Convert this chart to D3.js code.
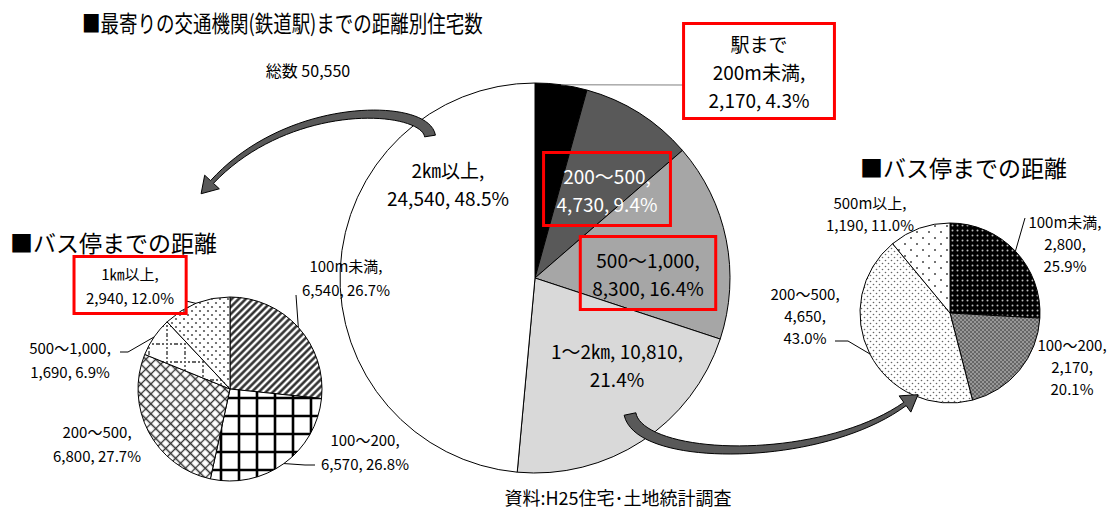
<!DOCTYPE html>
<html>
<head>
<meta charset="utf-8" />
<title>最寄りの交通機関までの距離別住宅数</title>
<style>
body { margin: 0; background: #fff; }
text { font-family: "Noto Sans CJK JP", "Noto Sans", sans-serif; fill: #000; }
</style>
</head>
<body>
<script src="https://cdn.jsdelivr.net/npm/d3@7"></script>
<script>
// 鉄道駅までの距離別（総数）
var stationCats = ["200m未満", "200～500", "500～1,000", "1～2㎞", "2㎞以上"];
var stationValues = [2170, 4730, 8300, 10810, 24540];

// 駅まで2km以上 → バス停までの距離
var farBusCats = ["100m未満", "100～200", "200～500", "500～1,000", "1㎞以上"];
var farBusValues = [6540, 6570, 6800, 1690, 2940];

// 駅まで1～2km → バス停までの距離
var midBusCats = ["100m未満", "100～200", "200～500", "500m以上"];
var midBusValues = [2800, 2170, 4650, 1190];

var W = 1116, H = 509;
var fmtN = d3.format(","), fmtP = d3.format(".1%");

var svg = d3.select("body").append("svg")
    .attr("width", W)
    .attr("height", H);
var defs = svg.append("defs");

//=====================
// hatch patterns
//=====================
function pattern(id, w, h, bg, transform) {
  var p = defs.append("pattern")
      .attr("id", id)
      .attr("patternUnits", "userSpaceOnUse")
      .attr("width", w)
      .attr("height", h);
  if (transform) p.attr("patternTransform", transform);
  p.append("rect").attr("width", w).attr("height", h).attr("fill", bg);
  return p;
}

pattern("p-stripe", 5, 5, "#fff", "rotate(45)")
  .append("path").attr("d", "M2.5,0V5").attr("stroke", "#222").attr("stroke-width", 2.4);
pattern("p-grid", 18, 18, "#fff")
  .append("path").attr("d", "M9,0V18M0,9H18").attr("stroke", "#000").attr("stroke-width", 2.6);
pattern("p-diamond", 7, 7, "#fff", "rotate(45)")
  .append("path").attr("d", "M3.5,0V7M0,3.5H7").attr("stroke", "#333").attr("stroke-width", 1.3);
pattern("p-dotgrid", 18, 18, "#fff")
  .append("path").attr("d", "M9,0V18M0,9H18").attr("stroke", "#666")
  .attr("stroke-width", 1.8).attr("stroke-dasharray", "2,2");
var pd = pattern("p-dots", 8, 8, "#fff");
pd.append("circle").attr("cx", 2).attr("cy", 2).attr("r", 1.1).attr("fill", "#555");
pd.append("circle").attr("cx", 6).attr("cy", 6).attr("r", 1.1).attr("fill", "#555");

pattern("p-blackdots", 5, 5, "#000")
  .append("circle").attr("cx", 2.5).attr("cy", 2.5).attr("r", 1).attr("fill", "#bbb");
var pg = pattern("p-grey", 4, 4, "#666");
pg.append("circle").attr("cx", 1).attr("cy", 1).attr("r", 0.7).attr("fill", "#eee");
pg.append("circle").attr("cx", 3).attr("cy", 3).attr("r", 0.7).attr("fill", "#eee");
var pf = pattern("p-finedots", 6, 6, "#fff");
pf.append("circle").attr("cx", 1.5).attr("cy", 1.5).attr("r", 0.8).attr("fill", "#666");
pf.append("circle").attr("cx", 4.5).attr("cy", 4.5).attr("r", 0.8).attr("fill", "#666");
var ps = pattern("p-sparsedots", 12, 12, "#fff");
ps.append("circle").attr("cx", 3).attr("cy", 3).attr("r", 1).attr("fill", "#444");
ps.append("circle").attr("cx", 9).attr("cy", 9).attr("r", 1).attr("fill", "#444");

//=====================
// pies
//=====================
var pies = [
  { cats: stationCats, values: stationValues, cx: 535, cy: 278, r: 195, size: 19, lh: 28,
    fills: ["#000", "#595959", "#a6a6a6", "#d9d9d9", "#fff"],
    labels: [
      { dx: 224, dy: -207, split: "a", prefix: "駅まで", box: [25, 6], lead: [[148, -193]], leadColor: "#808080" },
      { dx: 72, dy: -89, split: "a", color: "#fff", box: [13, 9] },
      { dx: 113, dy: -5, split: "a", box: [12, 9] },
      { dx: 82, dy: 86, split: "b" },
      { dx: -87, dy: -95, split: "a" }
    ] },
  { cats: farBusCats, values: farBusValues, cx: 230, cy: 389, r: 92, size: 15, lh: 24,
    fills: ["url(#p-stripe)", "url(#p-grid)", "url(#p-diamond)", "url(#p-dotgrid)", "url(#p-dots)"],
    labels: [
      { dx: 116, dy: -112, split: "a", lead: [[66, -94]] },
      { dx: 135, dy: 62, split: "a", lead: [[85, 76], [75, 76]] },
      { dx: -133, dy: 54, split: "a" },
      { dx: -160, dy: -30, split: "a", lead: [[-110, -37], [-102, -37]] },
      { dx: -100, dy: -104, split: "a", box: [12, 6], lead: [[-44, -88]] }
    ] },
  { cats: midBusCats, values: midBusValues, cx: 950, cy: 313, r: 90, size: 15, lh: 22,
    fills: ["url(#p-blackdots)", "url(#p-grey)", "url(#p-finedots)", "url(#p-sparsedots)"],
    labels: [
      { dx: 115, dy: -70, split: "c", lead: [[75, -95]] },
      { dx: 122, dy: 53, split: "c" },
      { dx: -145, dy: 2, split: "c", lead: [[-115, 28], [-102, 28]] },
      { dx: -80, dy: -100, split: "a" }
    ] }
];

var labelLayer = [];

pies.forEach(function(cfg) {
  var g = svg.append("g").attr("transform", "translate(" + cfg.cx + "," + cfg.cy + ")");
  var arcs = d3.pie().sort(null).value(function(d) { return d; })(cfg.values);
  var arc = d3.arc().innerRadius(0).outerRadius(cfg.r);
  var total = d3.sum(cfg.values);

  g.selectAll(".slice")
    .data(arcs)
    .join("path")
    .attr("class", "slice")
    .attr("d", arc)
    .attr("fill", function(d, i) { return cfg.fills[i]; })
    .attr("stroke", "#000")
    .attr("stroke-width", 1);

  cfg.labels.forEach(function(L, i) {
    labelLayer.push({ cfg: cfg, L: L, d: arcs[i], name: cfg.cats[i], total: total });
  });
});

//=====================
// curved block arrows
//=====================
function blockArrow(p, w0, w1, hw, hl) {
  function pt(t) {
    var u = 1 - t;
    return [u*u*u*p[0][0] + 3*u*u*t*p[1][0] + 3*u*t*t*p[2][0] + t*t*t*p[3][0],
            u*u*u*p[0][1] + 3*u*u*t*p[1][1] + 3*u*t*t*p[2][1] + t*t*t*p[3][1]];
  }
  function tan(t) {
    var u = 1 - t;
    var x = 3*u*u*(p[1][0]-p[0][0]) + 6*u*t*(p[2][0]-p[1][0]) + 3*t*t*(p[3][0]-p[2][0]);
    var y = 3*u*u*(p[1][1]-p[0][1]) + 6*u*t*(p[2][1]-p[1][1]) + 3*t*t*(p[3][1]-p[2][1]);
    var l = Math.sqrt(x*x + y*y);
    return [x/l, y/l];
  }
  var left = [], right = [], n = 40;
  for (var i = 0; i <= n; i++) {
    var t = i / n, q = pt(t), d = tan(t), w = (w0 + (w1 - w0) * t) / 2;
    left.push([q[0] - d[1]*w, q[1] + d[0]*w]);
    right.push([q[0] + d[1]*w, q[1] - d[0]*w]);
  }
  var e = pt(1), de = tan(1);
  var head = [
    [e[0] - de[1]*hw/2, e[1] + de[0]*hw/2],
    [e[0] + de[0]*hl, e[1] + de[1]*hl],
    [e[0] + de[1]*hw/2, e[1] - de[0]*hw/2]
  ];
  var all = left.concat(head).concat(right.reverse());
  svg.append("path")
    .attr("d", d3.line()(all) + "Z")
    .attr("fill", "#595959")
    .attr("stroke", "#000")
    .attr("stroke-width", 1)
    .attr("stroke-linejoin", "round");
}

blockArrow([[430, 136], [425, 104], [290, 98], [212, 182]], 11, 4, 20, 16);
blockArrow([[630, 414], [640, 462], [820, 465], [905, 404]], 12, 4, 20, 16);

//=====================
// labels
//=====================
labelLayer.forEach(function(o) {
  var cfg = o.cfg, L = o.L, v = o.d.data;
  var num = fmtN(v), pc = fmtP(v / o.total);
  var lines;
  if (L.split === "a") lines = [o.name + ",", num + ", " + pc];
  else if (L.split === "b") lines = [o.name + ",  " + num + ",", pc];
  else lines = [o.name + ",", num + ",", pc];
  if (L.prefix) lines.unshift(L.prefix);

  var x = cfg.cx + L.dx, y = cfg.cy + L.dy;

  if (L.lead) {
    var a = (o.d.startAngle + o.d.endAngle) / 2;
    var pts = L.lead.map(function(q) { return [cfg.cx + q[0], cfg.cy + q[1]]; });
    pts.push([cfg.cx + cfg.r * Math.sin(a), cfg.cy - cfg.r * Math.cos(a)]);
    svg.append("path")
      .attr("d", d3.line()(pts))
      .attr("fill", "none")
      .attr("stroke", L.leadColor || "#000")
      .attr("stroke-width", 1);
  }

  var tg = svg.append("g");
  lines.forEach(function(s, k) {
    tg.append("text")
      .attr("x", x)
      .attr("y", y + (k - (lines.length - 1) / 2) * cfg.lh)
      .attr("text-anchor", "middle")
      .attr("dominant-baseline", "central")
      .style("font-size", cfg.size + "px")
      .style("fill", L.color || "#000")
      .text(s);
  });

  if (L.box) {
    var b = tg.node().getBBox();
    svg.append("rect")
      .attr("x", b.x - L.box[0])
      .attr("y", b.y - L.box[1])
      .attr("width", b.width + 2 * L.box[0])
      .attr("height", b.height + 2 * L.box[1])
      .attr("fill", "none")
      .attr("stroke", "#ff0000")
      .attr("stroke-width", 3);
  }
});

//=====================
// titles
//=====================
// condensed title: squeeze horizontally to the reference width
var title = svg.append("text")
  .attr("dominant-baseline", "central")
  .style("font-size", "23px")
  .text("■最寄りの交通機関(鉄道駅)までの距離別住宅数");
var tw = title.node().getComputedTextLength();
title.attr("transform", "translate(82,22) scale(" + (401 / tw) + ",1)");

svg.append("text")
  .attr("x", 10).attr("y", 242)
  .attr("dominant-baseline", "central")
  .style("font-size", "23px")
  .text("■バス停までの距離");

svg.append("text")
  .attr("x", 860).attr("y", 167)
  .attr("dominant-baseline", "central")
  .style("font-size", "23px")
  .text("■バス停までの距離");

svg.append("text")
  .attr("x", 308).attr("y", 70)
  .attr("text-anchor", "middle")
  .attr("dominant-baseline", "central")
  .style("font-size", "16px")
  .text("総数  " + fmtN(d3.sum(stationValues)));

svg.append("text")
  .attr("x", 618).attr("y", 497)
  .attr("text-anchor", "middle")
  .attr("dominant-baseline", "central")
  .style("font-size", "18px")
  .text("資料:H25住宅･土地統計調査");
</script>
</body>
</html>
